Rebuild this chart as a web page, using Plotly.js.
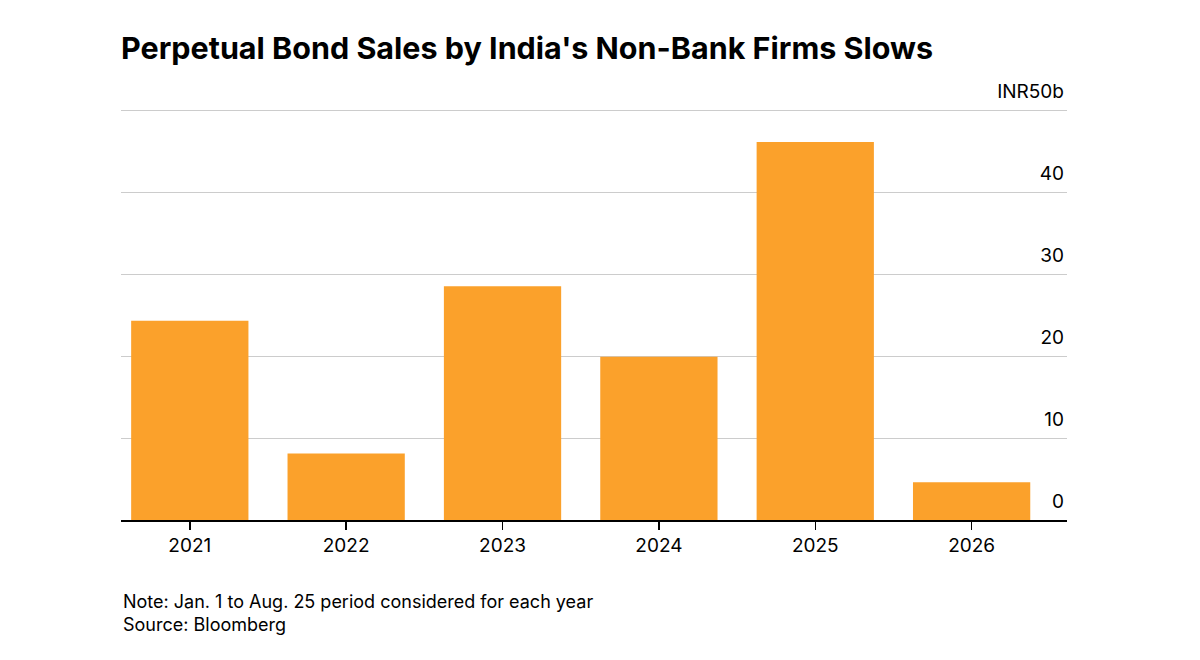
<!DOCTYPE html>
<html><head><meta charset="utf-8">
<script src="https://cdn.plot.ly/plotly-3.0.1.min.js"></script>
<style>body{margin:0;background:#fff}#c{width:1200px;height:660px}</style>
</head><body><div id="c"></div>
<script>
const years = ['2021','2022','2023','2024','2025','2026'];
const sales = [24.3, 8.1, 28.5, 19.9, 46.1, 4.6];
const tickVals = [0,10,20,30,40,50];
const tickLabels = ['0','10','20','30','40','INR50b'];
const F = 'Inter, "Liberation Sans", Arial, sans-serif';
const PH = 414;
Plotly.newPlot('c', [{
  type:'bar', x:years, y:sales, marker:{color:'#FBA12B'}, hoverinfo:'skip'
}], {
  width:1200, height:660,
  margin:{l:121, r:133, t:106, b:140},
  paper_bgcolor:'#fff', plot_bgcolor:'#fff',
  bargap:0.25,
  showlegend:false,
  title:{text:"<b>Perpetual Bond Sales by India's Non-Bank Firms Slows</b>", x:121/1200, xanchor:'left', y:1-48/660, yanchor:'middle', font:{family:F, size:30.5, color:'#000', weight:800}},
  xaxis:{type:'category', range:[-0.44,5.61], showline:true, linecolor:'#000', linewidth:1.5,
    ticks:'outside', ticklen:8, tickcolor:'#000', tickwidth:1.5,
    tickfont:{family:F, size:19, color:'#000'}, showgrid:false, fixedrange:true},
  yaxis:{range:[0,50.5], side:'right', tickvals:tickVals, ticktext:tickLabels,
    ticklabelposition:'inside', ticks:'', showgrid:true, gridcolor:'#cccccc', gridwidth:1,
    zeroline:false, tickfont:{family:F, size:19, color:'#000'}, ticklabelshift:-19, ticklabelstandoff:0, ticklabeloverflow:'allow', fixedrange:true},
  annotations:[
    {xref:'paper', yref:'paper', x:0, xanchor:'left', y:-(601-520)/PH, yanchor:'middle', showarrow:false, align:'left',
     text:'Note: Jan. 1 to Aug. 25 period considered for each year', font:{family:F, size:18, color:'#000'}},
    {xref:'paper', yref:'paper', x:0, xanchor:'left', y:-(624-520)/PH, yanchor:'middle', showarrow:false, align:'left',
     text:'Source: Bloomberg', font:{family:F, size:18, color:'#000'}}
  ]
}, {displayModeBar:false, staticPlot:true});
</script></body></html>
